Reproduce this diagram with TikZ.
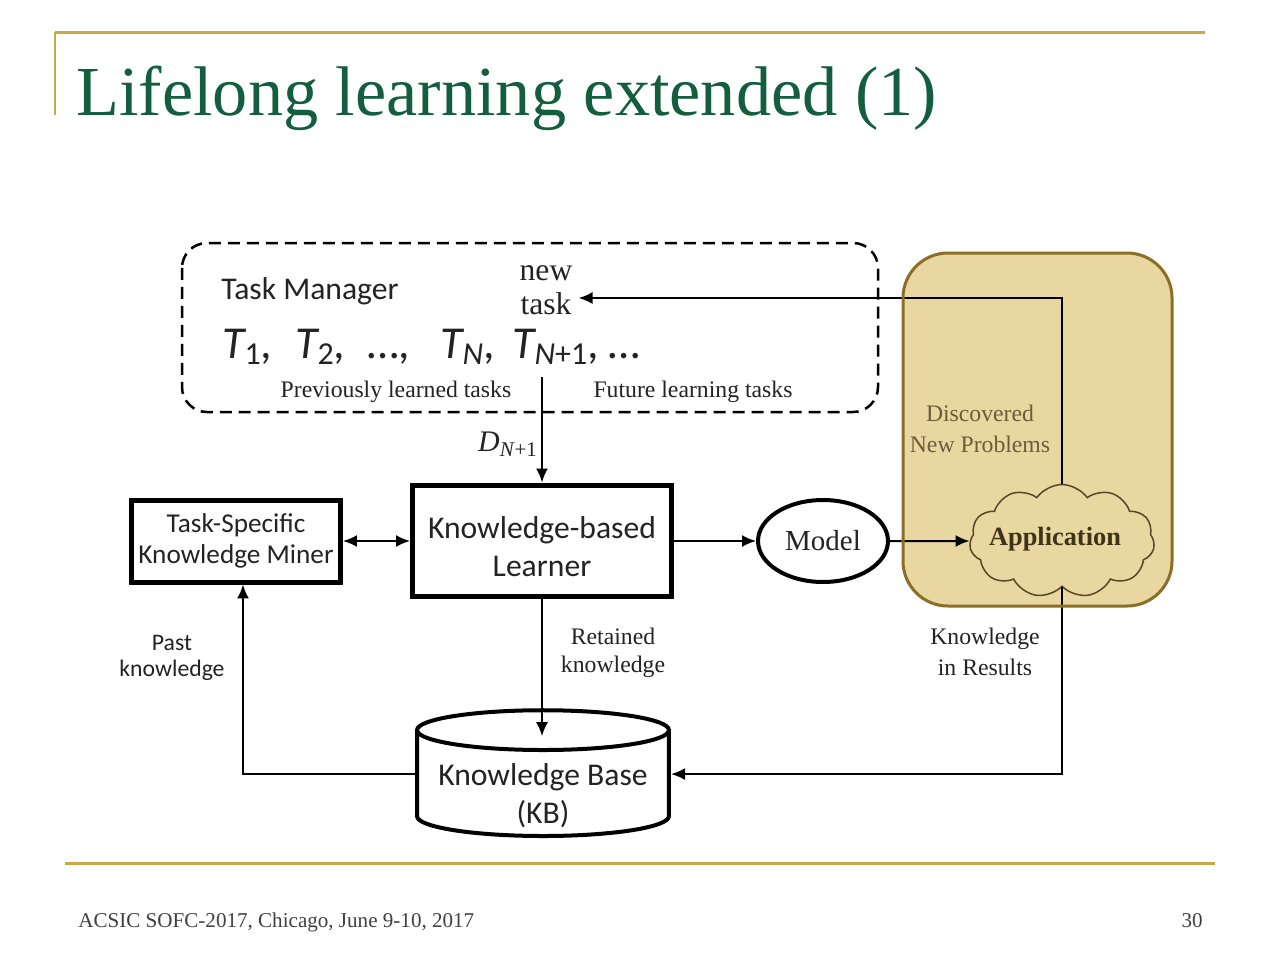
\documentclass[tikz,border=0pt]{standalone}
\usepackage{fontspec}
\setmainfont{Liberation Serif}
\setsansfont{Carlito}
\usetikzlibrary{arrows.meta,shapes.geometric,shapes.symbols}

\definecolor{titlegreen}{RGB}{18,94,62}
\definecolor{rulegold}{RGB}{201,168,70}
\definecolor{apptan}{RGB}{232,215,160}
\definecolor{appedge}{RGB}{140,110,40}
\definecolor{cloudedge}{RGB}{95,85,60}
\definecolor{inkgray}{RGB}{35,35,35}

\begin{document}
\begin{tikzpicture}[x=0.02cm, y=-0.02cm,
    arr/.style={draw=black, line width=0.04cm, -{Latex[length=0.28cm,width=0.24cm]}},
    thickbox/.style={draw=black, line width=0.1cm, fill=white, align=center, inner sep=0pt, text=inkgray},
    sanslabel/.style={font=\sffamily\fontsize{13.5}{15}\selectfont, text=inkgray, align=center},
    seriflabel/.style={font=\fontsize{13.5}{16}\selectfont, text=inkgray, align=center},
    taskname/.style={anchor=base west, inner sep=0pt, font=\sffamily\itshape\fontsize{26}{30}\selectfont, text=inkgray}]

    % Page
    \fill [white] (0, 0) rectangle (1280, 960);
    \useasboundingbox (0, 0) rectangle (1280, 960);

    %% Rules
    \draw [rulegold, line width=0.06cm] (55, 32) -- (1205, 32);
    \draw [rulegold, line width=0.04cm] (55, 32) -- (55, 115);
    \draw [rulegold, line width=0.06cm] (65, 863) -- (1215, 863);

    %% Title and footer
    \node (title) at (76, 115) [anchor=base west, inner sep=0pt, text=titlegreen,
        font=\fontsize{40}{48}\selectfont] {Lifelong learning extended (1)};
    \node (venue) at (78, 927) [anchor=base west, inner sep=0pt, text=black!75,
        font=\fontsize{12}{14}\selectfont] {ACSIC SOFC-2017, Chicago, June 9-10, 2017};
    \node (pageno) at (1203, 927) [anchor=base east, inner sep=0pt, text=black!75,
        font=\fontsize{12}{14}\selectfont] {30};

    % Task manager
    \draw [line width=0.05cm, dash pattern=on 0.24cm off 0.14cm, rounded corners=0.5cm]
        (182, 243) rectangle (878, 412);
    \node (manager) at (221, 299) [anchor=base west, inner sep=0pt, text=inkgray,
        font=\sffamily\fontsize{18}{21}\selectfont] {Task Manager};

    %% Tasks
    \node (t1) at (222, 358) [taskname] {T\textsubscript{\upshape 1},};
    \node (t2) at (295, 358) [taskname] {T\textsubscript{\upshape 2},};
    \node (tdots) at (367, 358) [taskname] {\upshape\dots,};
    \node (tn) at (440, 358) [taskname] {T\textsubscript{N},};
    \node (tnext) at (512, 358) [taskname] {T\textsubscript{N\upshape +1},};
    \node (tmore) at (608, 358) [taskname] {\upshape\dots};

    \node (newtask) at (546, 290) [seriflabel, font=\fontsize{18}{19.5}\selectfont] {new\\task};
    \node (previous) at (396, 392) [seriflabel] {Previously learned tasks};
    \node (future) at (693, 392) [seriflabel] {Future learning tasks};

    % Learners
    \node (miner) at (236, 541) [thickbox, minimum width=4.18cm, minimum height=1.64cm,
        font=\sffamily\fontsize{15.5}{18}\selectfont] {Task-Specific\\Knowledge Miner};
    \node (learner) at (542, 541) [thickbox, minimum width=5.18cm, minimum height=2.24cm,
        font=\sffamily\fontsize{18}{22}\selectfont] {\rule{0pt}{0.66cm}Knowledge-based\\Learner};
    \node (model) at (823, 541) [ellipse, draw, line width=0.08cm, minimum width=2.6cm,
        minimum height=1.64cm, inner sep=0pt, text=inkgray,
        font=\fontsize{16.5}{20}\selectfont] {Model};
    \node (app) at (1062, 541) [cloud, cloud puffs=11, cloud puff arc=110, aspect=1.7,
        draw=cloudedge, fill=white, line width=0.03cm, minimum width=3.7cm,
        minimum height=2.26cm, inner sep=0pt] {};
    \node (apptext) at (1055, 539) [inner sep=0pt, text={rgb,255:red,70;green,60;blue,40},
        font=\bfseries\fontsize{15}{18}\selectfont] {Application};

    % Knowledge base
    \node (kb) at (543, 838) [anchor=south, cylinder, shape border rotate=90, aspect=0.19, draw,
        line width=0.08cm, fill=white, minimum width=5.04cm, minimum height=2.06cm,
        inner sep=0pt, align=center, font=\sffamily\fontsize{18}{21.5}\selectfont]
        {\phantom{Knowledge Base}\\\phantom{(KB)}};
    \node (kbtext) at (543, 796) [inner sep=0pt, align=center, text=inkgray,
        font=\sffamily\fontsize{18}{21.5}\selectfont] {Knowledge Base\\(KB)};

    %% Labels
    \coordinate (dtop) at (542, 377);
    \node (dlabel) at (508, 444) [inner sep=0pt, text=inkgray, font=\fontsize{17}{20}\selectfont]
        {\textit{D}\textsubscript{\textit{N}+1}};
    \node (past) at (172, 658) [sanslabel] {Past\\knowledge};
    \node (retained) at (613, 653) [seriflabel] {Retained\\knowledge};
    \node (results) at (985, 652) [seriflabel, font=\fontsize{13.5}{18}\selectfont] {Knowledge\\in Results};

    %% Connectors
    \draw [arr] (dtop) -- (dtop |- learner.north);
    \draw [arr, {Latex[length=0.28cm,width=0.24cm]}-{Latex[length=0.28cm,width=0.24cm]}]
        (miner.east) -- (learner.west);
    \draw [arr] (learner.east) -- (model.west);
    \draw [arr] (model.east) -- (app.west);
    \draw [arr, shorten >=-0.56cm] (learner.south) -- (learner.south |- kb.north);
    \draw [arr] ([yshift=0.2cm]kb.west) -| ([xshift=0.14cm]miner.south);
    \draw [arr] (app.south) |- ([yshift=0.2cm]kb.east);
    \draw [arr] (app.north) |- ([yshift=-0.16cm]newtask.east);

    % Application box
    \node (discovered) at (980, 429) [seriflabel, text={rgb,255:red,120;green,110;blue,90},
        font=\fontsize{13.5}{18}\selectfont] {Discovered\\New Problems};
    \begin{scope}[blend mode=multiply]
        \fill [apptan, rounded corners=0.9cm] (902, 252) rectangle (1173, 607);
    \end{scope}
    \draw [appedge, line width=0.06cm, rounded corners=0.9cm] (903, 253) rectangle (1172, 606);

\end{tikzpicture}
\end{document}
